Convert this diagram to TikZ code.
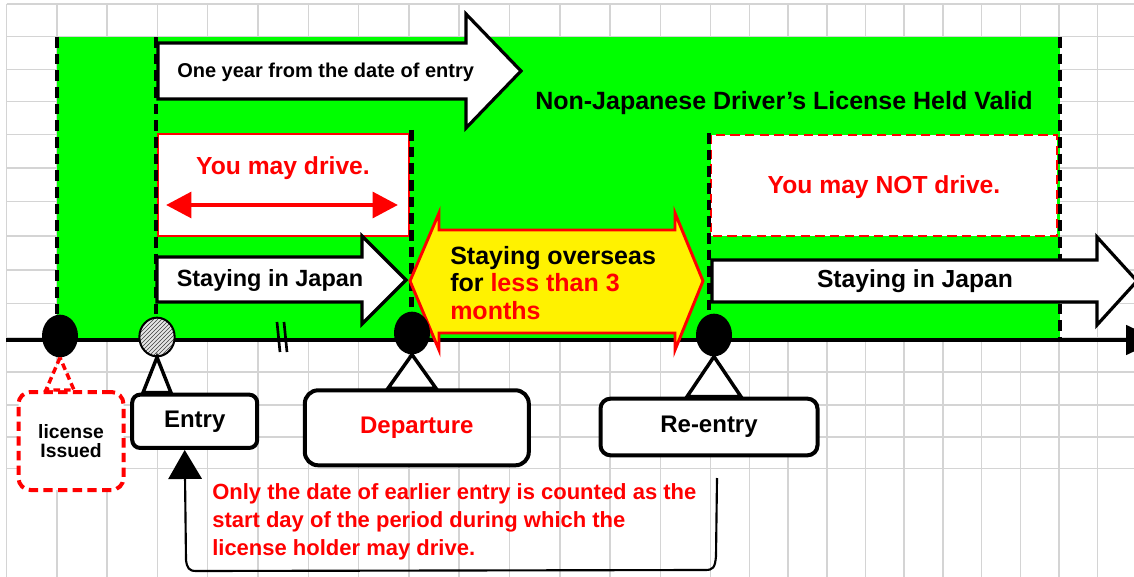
\documentclass[tikz,border=0pt]{standalone}
\usepackage{fontspec}
\setmainfont{Liberation Sans}
\usepackage{tikz}
\usetikzlibrary{calc,arrows.meta,shapes.geometric,patterns}
\definecolor{gridgray}{RGB}{212,212,212}
\definecolor{validgreen}{RGB}{0,255,0}

\begin{document}
\begin{tikzpicture}[x=0.75pt,y=0.75pt,yscale=-1,xscale=1,
  gridline/.style={draw=gridgray,line width=1.1pt},
  fence/.style={line width=3.5pt,dash pattern=on 8pt off 4.5pt},
  blockarrow/.style={draw=black,line width=2.4pt,fill=white,line join=miter},
  event/.style={draw,line width=3pt,fill=white,inner sep=0pt,align=center,font=\fontsize{18}{22}\selectfont\bfseries},
  blackdot/.style={ellipse,fill=black,minimum width=27pt,minimum height=32pt,inner sep=0pt},
  pointer/.style={draw,line width=2.6pt,fill=white,line join=miter},
  bigtext/.style={inner sep=0pt,font=\fontsize{18.5}{22}\selectfont\bfseries}]
\useasboundingbox (0,0) rectangle (1134,577);

%Grid
\foreach \gx in {0,...,14} \draw[gridline] ({6.5+50.3*\gx},4) -- ({6.5+50.3*\gx},577);
\foreach \gx in {1,...,11} \draw[gridline] ({710.7+38.7*\gx},4) -- ({710.7+38.7*\gx},577);
\foreach \gy in {4,36.7,69.3,101.7,134.5,168,201.7,236,270,303.5,338,372,405,437,468.5} \draw[gridline] (6.5,\gy) -- (1134,\gy);

%Shape: Rectangle [green period]
\fill[validgreen] (57,37) rectangle (1060,340);

%Shape: Right Arrow [one year]
\draw[blockarrow] (158,43) -- (466,43) -- (466,14) -- (521,71) -- (466,128) -- (466,99) -- (158,99) -- cycle;
% Text Node
\draw (177,72) node (txtyear) [anchor=west,inner sep=0pt,font=\fontsize{15}{18}\selectfont\bfseries] {One year from the date of entry};
% Text Node
\draw (784,103) node (txtvalid) [bigtext,font=\fontsize{18.75}{22}\selectfont\bfseries] {Non-Japanese Driver's License Held Valid};

%Shape: Rectangle [may drive]
\draw[draw=red,line width=2.2pt,fill=white] (158,134) rectangle (409,236);
% Text Node
\draw (283,168) node (txtdrive) [bigtext,text=red] {You may drive.};
%Straight Lines [double arrow]
\coordinate (drivefrom) at (166,205);
\coordinate (driveto) at (398,205);
\draw[red,line width=3.6pt,{Triangle[length=19pt,width=19pt]}-{Triangle[length=19pt,width=19pt]}] (drivefrom) -- (driveto);

%Shape: Rectangle [may not drive]
\draw[draw=red,line width=2.2pt,dash pattern=on 7pt off 4pt,fill=white] (711,135) rectangle (1057,236);
% Text Node
\draw (884,187) node (txtnodrive) [bigtext,text=red] {You may NOT drive.};

%Straight Lines [dashed limits]
\draw[fence] (57,37) -- (57,340);
\draw[fence] (156,37) -- (156,340);
\draw[fence] (411.5,130) -- (411.5,340);
\draw[fence] (709,133) -- (709,340);
\draw[fence] (1060,37) -- (1060,340);

%Straight Lines [time axis]
\coordinate (axisstart) at (6,340);
\coordinate (axisend) at (1158,340);
\draw[line width=3pt,-{Triangle[length=24pt,width=22pt]}] (axisstart) -- (axisend);

%Shape: Right Arrow [in Japan]
\draw[blockarrow] (157,257) -- (362,257) -- (362,236) -- (406,280) -- (362,324) -- (362,302) -- (157,302) -- cycle;
% Text Node
\draw (270,280) node (txtjapan1) [bigtext,font=\fontsize{17.6}{21}\selectfont\bfseries] {Staying in Japan};
%Shape: Right Arrow [in Japan again]
\draw[blockarrow] (712,260) -- (1097,260) -- (1097,237) -- (1137,281) -- (1097,325) -- (1097,302) -- (712,302) -- cycle;
% Text Node
\draw (915,281) node (txtjapan2) [bigtext] {Staying in Japan};

%Shape: Left Right Arrow [overseas]
\draw[draw=red,fill=yellow,line width=2.2pt,line join=miter] (410,281) -- (439,213) -- (439,230) -- (675,230) -- (675,213) -- (703,281) -- (675,350) -- (675,333) -- (439,333) -- (439,350) -- cycle;
% Text Node
\draw (450,283) node (txtabroad) [anchor=west,align=left,inner sep=0pt,font=\fontsize{18.75}{20.6}\selectfont\bfseries] {Staying overseas\\for \textcolor{red}{less than 3}\\\textcolor{red}{months}};

%Shape: Circle [dates]
\draw (60,336) node (dotlic) [blackdot] {};
\draw (157,337) node (dotentry) [ellipse,draw,line width=1.5pt,preaction={fill=black!10},pattern=north east lines,pattern color=black!75,minimum width=26.5pt,minimum height=29pt,inner sep=0pt] {};
\draw (412,333) node (dotdep) [blackdot] {};
\draw (714,335) node (dotreentry) [blackdot] {};

%Straight Lines [break]
\draw[line width=2pt] (277,322) -- (280,352);
\draw[line width=2pt] (284,322) -- (287,352);

%Shape: Rounded Rectangle [events]
\draw (71,441) node (boxlic) [event,draw=red,dash pattern=on 7pt off 4pt,rounded corners=9pt,minimum width=78.75pt,minimum height=73.5pt,font=\fontsize{14.5}{14.6}\selectfont\bfseries] {license\\Issued};
\draw (194.7,421.3) node (boxentry) [event,rounded corners=6pt,minimum width=93.75pt,minimum height=40pt] {Entry};
\draw (416.8,427.8) node (boxdep) [event,rounded corners=10pt,minimum width=168pt,minimum height=56.25pt,text=red] {Departure};
\draw (709,427) node (boxreentry) [event,rounded corners=7.5pt,minimum width=162.75pt,minimum height=42.5pt] {Re-entry};

%Shape: Triangle [pointers]
\draw[pointer,draw=red,dash pattern=on 5pt off 3pt] (dotlic.south) -- ($(dotlic.south |- boxlic.north)+(-14,0)$) -- ($(dotlic.south |- boxlic.north)+(14,0)$) -- cycle;
\draw[pointer] (dotentry.south) -- ($(dotentry.south |- boxentry.north)+(-14,0)$) -- ($(dotentry.south |- boxentry.north)+(14,0)$) -- cycle;
\draw[pointer] (dotdep.south) -- ($(dotdep.south |- boxdep.north)+(-24,0)$) -- ($(dotdep.south |- boxdep.north)+(24,0)$) -- cycle;
\draw[pointer] (dotreentry.south) -- ($(dotreentry.south |- boxreentry.north)+(-27,0)$) -- ($(dotreentry.south |- boxreentry.north)+(27,0)$) -- cycle;

%Curve Lines [note]
\coordinate (notetop) at (717,478);
\draw[line width=1.6pt,-{Triangle[length=21.75pt,width=25pt]}] (notetop) -- (716,556) .. controls (715,568) and (713,570) .. (705,570) -- (196,571) .. controls (189,571) and (187,568) .. (186,560) -- ([xshift=-7.5pt]boxentry.south);
% Text Node
\draw (212,522) node (txtnote) [anchor=west,align=left,inner sep=0pt,text=red,font=\fontsize{16.5}{21}\selectfont\bfseries] {Only the date of earlier entry is counted as the\\start day of the period during which the\\license holder may drive.};

\end{tikzpicture}
\end{document}
